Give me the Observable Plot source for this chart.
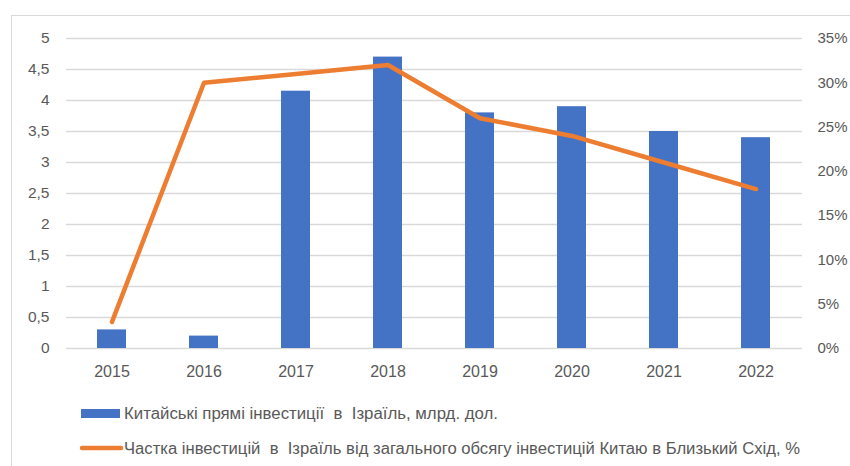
<!DOCTYPE html>
<html>
<head>
<meta charset="utf-8">
<script src="https://cdn.jsdelivr.net/npm/d3@7"></script>
<script src="https://cdn.jsdelivr.net/npm/@observablehq/plot@0.6"></script>
<style>
  html, body { margin: 0; padding: 0; background: #fff; }
  #wrap { position: relative; width: 850px; height: 466px; overflow: hidden; background: #fff; }
  #frame { position: absolute; left: 10.5px; top: 14.5px; width: 850px; height: 470px;
           border-top: 1.5px solid #d9d9d9; border-left: 1.5px solid #d9d9d9; pointer-events: none; }
  #chart { position: absolute; left: 0; top: 0; }
  #legend { position: absolute; left: 0; top: 390px; }
</style>
</head>
<body>
<div id="wrap">
  <div id="frame"></div>
  <div id="chart"></div>
  <div id="legend"></div>
</div>
<script>
const years = ["2015", "2016", "2017", "2018", "2019", "2020", "2021", "2022"];
const investment = [0.3, 0.2, 4.15, 4.7, 3.8, 3.9, 3.5, 3.4];   // млрд. дол.
const share = [3, 30, 31, 32, 26, 24, 21, 18];                  // %
const leftTicks = [0, 0.5, 1, 1.5, 2, 2.5, 3, 3.5, 4, 4.5, 5];
const rightTicks = [0, 5, 10, 15, 20, 25, 30, 35];
const seriesNames = [
  "Китайські прямі інвестиції  в  Ізраїль, млрд. дол.",
  "Частка інвестицій  в  Ізраїль від загального обсягу інвестицій Китаю в Близький Схід, %"
];
const colors = ["#4472c4", "#ed7d31"];

const rightMax = 35, leftMax = 5;
const toLeft = v => v * leftMax / rightMax;

const data = years.map((y, i) => ({year: y, inv: investment[i], share: share[i]}));

const font = "'Liberation Sans', Arial, sans-serif";

const chart = Plot.plot({
  width: 850,
  height: 390,
  marginLeft: 66,
  marginRight: 48,
  marginTop: 38,
  marginBottom: 42,
  style: {fontFamily: font, fontSize: "15.5px", color: "#595959", background: "transparent"},
  x: {domain: years, paddingInner: 0.68, paddingOuter: 0.34, axis: null, label: null},
  y: {domain: [0, leftMax], axis: null, label: null},
  marks: [
    Plot.gridY(leftTicks, {stroke: "#d9d9d9", strokeOpacity: 1, strokeWidth: 1.5}),
    Plot.axisY(leftTicks, {anchor: "left", tickSize: 0, tickPadding: 17, label: null,
      tickFormat: d => String(d).replace(".", ","), fill: "#595959", fontSize: 15.5}),
    Plot.axisY(rightTicks.map(toLeft), {anchor: "right", tickSize: 0, tickPadding: 15, label: null,
      tickFormat: d => Math.round(d * rightMax / leftMax) + "%", fill: "#595959", fontSize: 15, textAnchor: "start"}),
    Plot.axisX(years, {anchor: "bottom", tickSize: 0, tickPadding: 17, label: null, fill: "#595959", fontSize: 16}),
    Plot.barY(data, {x: "year", y: "inv", fill: colors[0]}),
    Plot.line(data, {x: "year", y: d => toLeft(d.share), stroke: colors[1], strokeWidth: 4.5,
      strokeLinecap: "round", strokeLinejoin: "round"})
  ]
});
document.getElementById("chart").appendChild(chart);

// Legend
const ns = "http://www.w3.org/2000/svg";
const leg = document.createElementNS(ns, "svg");
leg.setAttribute("width", 850);
leg.setAttribute("height", 76);
leg.style.fontFamily = font;
const items = [
  {type: "rect", textX: 124, baseline: 29, symY: 23.5, len: 374},
  {type: "line", textX: 124, baseline: 64, symY: 58, len: 676}
];
items.forEach((it, i) => {
  if (it.type === "rect") {
    const r = document.createElementNS(ns, "rect");
    r.setAttribute("x", 81); r.setAttribute("y", it.symY - 4.5);
    r.setAttribute("width", 39); r.setAttribute("height", 9);
    r.setAttribute("fill", colors[i]);
    leg.appendChild(r);
  } else {
    const l = document.createElementNS(ns, "line");
    l.setAttribute("x1", 82); l.setAttribute("x2", 121);
    l.setAttribute("y1", it.symY); l.setAttribute("y2", it.symY);
    l.setAttribute("stroke", colors[i]); l.setAttribute("stroke-width", 4.5);
    l.setAttribute("stroke-linecap", "round");
    leg.appendChild(l);
  }
  const t = document.createElementNS(ns, "text");
  t.setAttribute("x", it.textX); t.setAttribute("y", it.baseline);
  t.setAttribute("fill", "#595959");
  t.setAttribute("font-size", 16);
  t.setAttribute("textLength", it.len);
  t.setAttribute("lengthAdjust", "spacingAndGlyphs");
  t.setAttribute("xml:space", "preserve");
  t.style.whiteSpace = "pre";
  t.textContent = seriesNames[i];
  leg.appendChild(t);
});
document.getElementById("legend").appendChild(leg);
</script>
</body>
</html>
